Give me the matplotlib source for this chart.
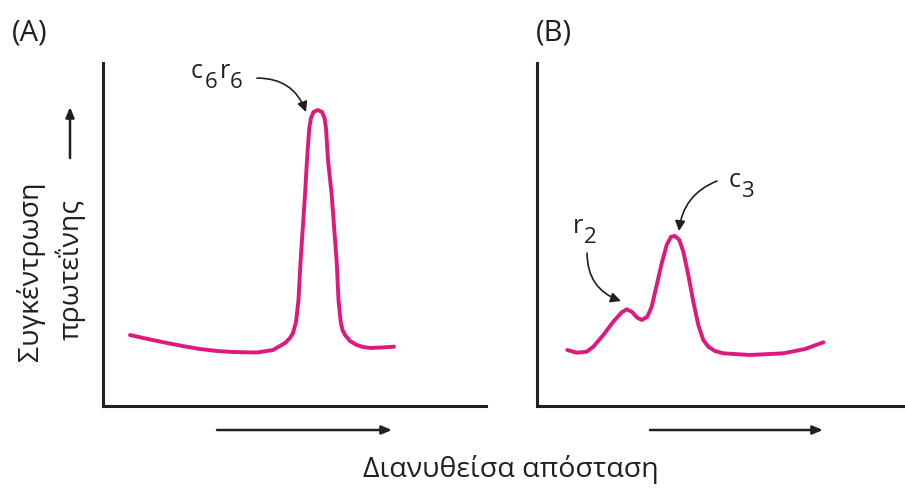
import matplotlib
matplotlib.use("Agg")
import matplotlib.pyplot as plt
from matplotlib.patches import FancyArrowPatch

plt.rcParams['font.family'] = ['Open Sans', 'DejaVu Sans']

# ---- data (distance travelled vs protein concentration, arbitrary units 0-100)
a_x = [7.05, 12.27, 16.71, 21.41, 25.33, 29.77, 33.94, 40.21, 44.39, 47.52, 48.83,
       49.61, 50.39, 51.04, 51.57, 52.74, 53.26, 53.86, 54.31, 54.96, 56.06, 57.18,
       57.83, 58.22, 58.75, 59.71, 61.02, 61.49, 62.06, 62.53, 63.19, 64.49, 66.24,
       67.89, 69.71, 72.85, 75.98]
a_y = [20.70, 19.39, 18.37, 17.35, 16.62, 16.03, 15.74, 15.60, 16.33, 18.37, 19.83,
       21.28, 24.49, 30.90, 41.98, 61.52, 71.72, 81.05, 83.97, 85.71, 86.30, 85.71,
       83.97, 81.05, 71.72, 61.52, 41.98, 30.90, 24.49, 22.16, 20.70, 18.95, 17.78,
       17.20, 16.91, 17.06, 17.29]

b_x = [8.23, 10.79, 13.51, 15.30, 18.02, 20.73, 23.02, 24.38, 25.73, 27.26, 28.45,
       29.97, 31.17, 32.53, 33.89, 35.24, 36.41, 37.50, 38.67, 39.76, 41.11, 42.47,
       43.83, 45.19, 46.55, 48.37, 50.63, 57.88, 66.93, 72.83, 77.80]
b_y = [16.33, 15.54, 15.83, 17.29, 20.70, 24.58, 27.32, 28.19, 27.49, 25.74, 25.07,
       26.03, 28.95, 35.28, 41.60, 46.94, 49.36, 49.56, 48.40, 44.99, 38.19, 30.41,
       23.62, 19.24, 17.29, 16.03, 15.36, 14.87, 15.36, 16.62, 18.57]

panel_titles = ["(A)", "(B)"]
ylabel_lines = ["Συγκέντρωση", "πρωτεΐνης"]
xlabel = "Διανυθείσα απόσταση"

curve_color = "#E0187C"
ink = "#231f20"

W, H = 905, 492
fig = plt.figure(figsize=(W / 100, H / 100), dpi=100)


def fx(px):
    return px / W


def fy(py):
    return 1 - py / H


def make_axes(left_px, right_px):
    ax = fig.add_axes([fx(left_px), fy(406), (right_px - left_px) / W, (406 - 63) / H])
    ax.set_xlim(0, 100)
    ax.set_ylim(0, 100)
    for s in ("top", "right"):
        ax.spines[s].set_visible(False)
    for s in ("left", "bottom"):
        ax.spines[s].set_linewidth(2.2)
        ax.spines[s].set_color(ink)
    ax.set_xticks([])
    ax.set_yticks([])
    ax.patch.set_alpha(0)
    return ax


axA = make_axes(103, 486)
axB = make_axes(537, 905)

for ax, xs, ys in ((axA, a_x, a_y), (axB, b_x, b_y)):
    ax.plot(xs, ys, color=curve_color, lw=2.8, solid_joinstyle="round",
            solid_capstyle="round", clip_on=False)


def curved_arrow(ax, start, end, rad):
    p = FancyArrowPatch(start, end, connectionstyle=f"arc3,rad={rad}",
                        arrowstyle="-|>,head_length=6,head_width=3",
                        color=ink, lw=1.2, shrinkA=0, shrinkB=0, clip_on=False)
    ax.add_patch(p)


def glyph(px, py, s, size):
    fig.text(fx(px), fy(py), s, fontsize=size, ha="left", va="baseline", color=ink)


# annotation labels: letter + lowered digit
glyph(191, 78, "c", 18)
glyph(205, 88, "6", 16)
glyph(220, 78, "r", 18)
glyph(230, 88, "6", 16)
curved_arrow(axA, (40.2, 95.6), (53.0, 85.7), -0.35)

glyph(573, 233, "r", 18)
glyph(584, 243, "2", 16)
curved_arrow(axB, (13.6, 44.6), (22.8, 30.6), 0.35)

glyph(729, 187, "c", 18)
glyph(741, 197, "3", 16)
curved_arrow(axB, (48.9, 65.6), (38.6, 51.0), 0.3)

# panel titles
fig.text(fx(12), fy(33), panel_titles[0], fontsize=21, ha="left", va="center", color=ink)
fig.text(fx(536), fy(33), panel_titles[1], fontsize=21, ha="left", va="center", color=ink)

# y label (two rotated lines) with upward arrow
fig.text(fx(30), fy(271), ylabel_lines[0], fontsize=20.5, rotation=90,
         ha="center", va="center", color=ink)
fig.text(fx(70), fy(269), ylabel_lines[1], fontsize=20.5, rotation=90,
         ha="center", va="center", color=ink)
fig.patches.append(FancyArrowPatch((fx(70), fy(158)), (fx(70), fy(107)),
                                   transform=fig.transFigure,
                                   arrowstyle="-|>,head_length=6,head_width=2.5",
                                   color=ink, lw=1.8, shrinkA=0, shrinkB=0))

# x arrows
for x0, x1 in ((217, 392), (650, 823)):
    fig.patches.append(FancyArrowPatch((fx(x0), fy(430)), (fx(x1), fy(430)),
                                       transform=fig.transFigure,
                                       arrowstyle="-|>,head_length=6,head_width=2.5",
                                       color=ink, lw=1.8, shrinkA=0, shrinkB=0))

fig.text(fx(511), fy(469), xlabel, fontsize=20.5, ha="center", va="center", color=ink)

fig.savefig("out.png", dpi=100, facecolor="white")
